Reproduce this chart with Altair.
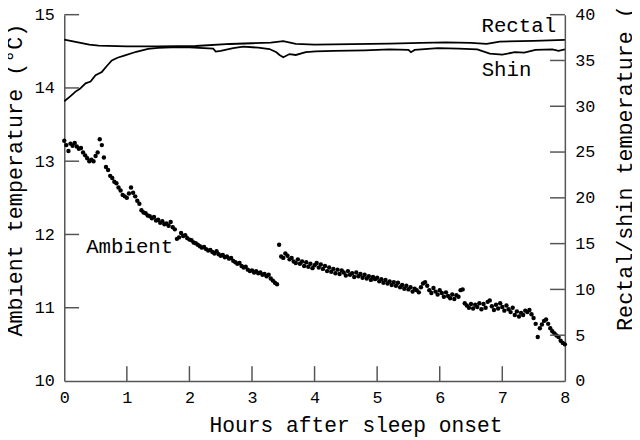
import altair as alt
import pandas as pd

# Ambient temperature, one reading every 2 minutes from sleep onset (°C)
amb_values = [
    13.28, 13.22, 13.14, 13.24, 13.21, 13.25, 13.20, 13.17, 13.18, 13.12,
    13.08, 13.04, 13.00, 13.02, 13.00, 13.07, 13.12, 13.30, 13.22, 13.05,
    12.92, 12.88, 12.80, 12.77, 12.72, 12.70, 12.64, 12.60, 12.54, 12.52,
    12.50, 12.56, 12.64, 12.57, 12.52, 12.46, 12.42, 12.33, 12.30, 12.29,
    12.26, 12.25, 12.22, 12.24, 12.19, 12.20, 12.16, 12.18, 12.14, 12.15,
    12.12, 12.17, 12.10, 12.07, 11.94, 11.96, 12.02, 11.98, 11.99, 11.95,
    11.93, 11.92, 11.89, 11.88, 11.86, 11.84, 11.82, 11.83, 11.80, 11.78,
    11.79, 11.76, 11.74, 11.77, 11.73, 11.71, 11.72, 11.69, 11.70, 11.67,
    11.68, 11.64, 11.62, 11.60, 11.61, 11.57, 11.55, 11.56, 11.52, 11.50,
    11.51, 11.48, 11.50, 11.47, 11.48, 11.45, 11.46, 11.43, 11.45, 11.40,
    11.37, 11.34, 11.32, 11.86, 11.70, 11.68, 11.74, 11.71, 11.66, 11.68,
    11.63, 11.61, 11.66, 11.60, 11.63, 11.57, 11.62, 11.56, 11.60, 11.54,
    11.58, 11.61, 11.55, 11.59, 11.53, 11.57, 11.50, 11.55, 11.49, 11.53,
    11.47, 11.52, 11.46, 11.51, 11.48, 11.44, 11.50, 11.45, 11.47, 11.42,
    11.48, 11.43, 11.46, 11.41, 11.45, 11.40, 11.43, 11.38, 11.42, 11.39,
    11.41, 11.36, 11.39, 11.34, 11.38, 11.33, 11.36, 11.31, 11.35, 11.30,
    11.34, 11.28, 11.31, 11.26, 11.30, 11.25, 11.28, 11.22, 11.26, 11.24,
    11.21, 11.28, 11.33, 11.35, 11.30, 11.24, 11.20, 11.27, 11.22, 11.18,
    11.24, 11.20, 11.15, 11.21, 11.16, 11.13, 11.18, 11.12, 11.17, 11.15,
    11.24, 11.25, 11.06, 11.03, 11.00, 11.05, 10.99, 11.04, 11.01, 11.06,
    10.98, 11.05, 11.00, 11.08, 11.10, 11.02, 10.97, 11.04, 10.99, 11.06,
    11.01, 10.96, 11.03, 10.98, 10.94, 11.00, 10.90, 10.95, 10.88, 10.93,
    10.90, 10.96, 10.94, 10.97, 10.91, 10.86, 10.78, 10.60, 10.72, 10.77,
    10.82, 10.84, 10.78, 10.72, 10.68, 10.65, 10.62, 10.60, 10.55, 10.52,
    10.50,
]
amb_hours = [2 * i / 60 for i in range(len(amb_values))]

rectal_hours = [0, 0.2, 0.4, 0.55, 1.0, 1.5, 2.1, 2.65, 3.0, 3.3, 3.5, 3.7,
                4.0, 4.6, 5.2, 5.7, 6.1, 6.5, 6.75, 6.96, 7.5, 8.0]
rectal_temps = [37.27, 37.0, 36.72, 36.62, 36.55, 36.55, 36.58, 36.8, 36.88,
                36.95, 37.1, 36.8, 36.73, 36.78, 36.85, 36.93, 36.98, 36.92,
                36.82, 37.05, 37.15, 37.25]

shin_hours = [0, 0.1, 0.18, 0.25, 0.34, 0.42, 0.5, 0.6, 0.68, 0.76, 0.85,
              0.97, 1.15, 1.34, 1.5, 1.71, 2.0, 2.38, 2.42, 2.5, 2.7, 2.86,
              3.1, 3.28, 3.39, 3.44, 3.5, 3.6, 3.7, 3.86, 4.02, 4.3, 4.8,
              5.2, 5.5, 5.54, 5.6, 5.97, 6.3, 6.6, 6.8, 7.0, 7.2, 7.35, 7.53,
              7.8, 7.9, 8.0]
shin_temps = [30.55, 31.1, 31.6, 31.9, 32.5, 32.7, 33.4, 33.75, 34.4, 35.0,
              35.3, 35.55, 35.95, 36.26, 36.38, 36.44, 36.42, 36.3, 35.97,
              36.05, 36.35, 36.5, 36.4, 36.25, 35.9, 35.6, 35.36, 35.7, 35.6,
              35.9, 36.0, 36.05, 36.1, 36.2, 36.15, 35.9, 36.15, 36.35, 36.3,
              36.2, 35.75, 35.65, 35.9, 35.85, 36.15, 36.2, 36.05, 36.2]

x_ticks = [1, 2, 3, 4, 5, 6, 7]
x_labels = [0, 1, 2, 3, 4, 5, 6, 7, 8]
amb_ticks = [11, 12, 13, 14, 15]
amb_labels = [10, 11, 12, 13, 14, 15]
core_ticks = [5, 10, 15, 20, 25, 30, 35, 40]
core_labels_v = [0, 5, 10, 15, 20, 25, 30, 35, 40]

W, H = 507, 371
FONT = "Liberation Mono"
AX = "#555555"

xs = alt.Scale(domain=[0, 8], nice=False)
ys_amb = alt.Scale(domain=[10, 15], nice=False, zero=False)
ys_core = alt.Scale(domain=[0, 40], nice=False)

amb_df = pd.DataFrame({"hour": amb_hours, "temp": amb_values})
lines_df = pd.concat([
    pd.DataFrame({"hour": rectal_hours, "temp": rectal_temps, "series": "Rectal"}),
    pd.DataFrame({"hour": shin_hours, "temp": shin_temps, "series": "Shin"}),
])
rect_label = pd.DataFrame({"hour": [7.86], "temp": [38.8], "label": ["Rectal"]})
shin_label = pd.DataFrame({"hour": [6.67], "temp": [33.96], "label": ["Shin"]})
amb_label = pd.DataFrame({"hour": [0.35], "temp": [11.83], "label": ["Ambient"]})

x_axis = alt.Axis(values=x_labels, title="Hours after sleep onset",
                  labelPadding=9, titleX=295, titleY=45, titleAlign="center",
                  titleBaseline="middle", format="d", titleFontSize=21.5,
                  labelFlush=False)


def X(field):
    return alt.X(field, scale=xs, axis=x_axis)


points = alt.Chart(amb_df).mark_circle(size=20, color="black", opacity=1).encode(
    x=X("hour:Q"),
    y=alt.Y("temp:Q", scale=ys_amb, axis=alt.Axis(
        orient="left", values=amb_labels, format="d",
        title="Ambient temperature (°C)", titleX=-50, titleY=167,
        titleAngle=270, titleAlign="center", titleBaseline="middle",
        labelPadding=10, labelFlush=False)),
)

lines = alt.Chart(lines_df).mark_line(color="black", strokeWidth=1.8).encode(
    x=X("hour:Q"),
    y=alt.Y("temp:Q", scale=ys_core, axis=alt.Axis(
        orient="right", values=core_labels_v, format="d",
        title="Rectal/shin temperature (°C)", titleX=60, titleY=135,
        titleAngle=270, titleAlign="center", titleBaseline="middle",
        labelPadding=10, labelFlush=False)),
    detail="series:N",
)

rect_text = alt.Chart(rect_label).mark_text(
    font=FONT, fontSize=21, baseline="middle", align="right", color="black").encode(
    x=X("hour:Q"), y=alt.Y("temp:Q", scale=ys_core, axis=None), text="label:N")
shin_text = alt.Chart(shin_label).mark_text(
    font=FONT, fontSize=21, baseline="middle", align="left", color="black").encode(
    x=X("hour:Q"), y=alt.Y("temp:Q", scale=ys_core, axis=None), text="label:N")
amb_text = alt.Chart(amb_label).mark_text(
    font=FONT, fontSize=21, baseline="middle", align="left", color="black").encode(
    x=X("hour:Q"), y=alt.Y("temp:Q", scale=ys_amb, axis=None), text="label:N")

left_ticks = alt.Chart(pd.DataFrame({"v": amb_ticks})).mark_rule(color=AX, strokeWidth=1.5).encode(
    y=alt.Y("v:Q", scale=ys_amb, axis=None), x=alt.value(0), x2=alt.value(15))
right_ticks = alt.Chart(pd.DataFrame({"v": core_ticks})).mark_rule(color=AX, strokeWidth=1.5).encode(
    y=alt.Y("v:Q", scale=ys_core, axis=None), x=alt.value(W - 15), x2=alt.value(W))
bottom_ticks = alt.Chart(pd.DataFrame({"hour": x_ticks})).mark_rule(color=AX, strokeWidth=1.5).encode(
    x=X("hour:Q"), y=alt.value(H - 15), y2=alt.value(H))

chart = alt.layer(
    points, lines, rect_text, shin_text, amb_text, left_ticks, right_ticks, bottom_ticks
).resolve_scale(y="independent").properties(
    width=W, height=H,
    padding={"left": 57, "top": 4, "right": 68, "bottom": 57},
    autosize=alt.AutoSizeParams(type="none"),
).configure_view(stroke=None).configure_axis(
    labelFont=FONT, titleFont=FONT, labelFontSize=17, titleFontSize=22,
    labelColor="black", titleColor="black", titleFontWeight="normal",
    domainColor=AX, domainWidth=1.5, tickSize=0, grid=False, labelFlush=False,
)

chart.save("out.html", embed_options={"renderer": "svg", "actions": False})
